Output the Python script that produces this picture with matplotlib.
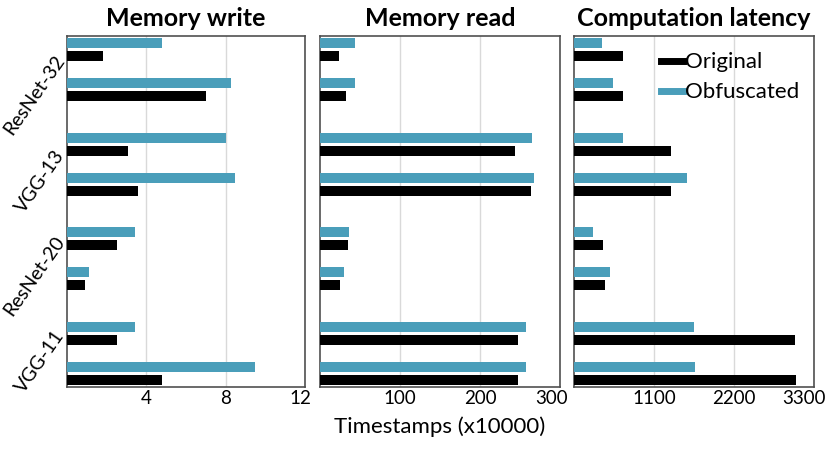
import matplotlib
matplotlib.use("Agg")
import matplotlib.pyplot as plt
import matplotlib.transforms as mtransforms
from matplotlib.lines import Line2D
import numpy as np

plt.rcParams['font.family'] = ['Lato', 'DejaVu Sans']

models = ["ResNet-32", "VGG-13", "ResNet-20", "VGG-11"]
titles = ["Memory write", "Memory read", "Computation latency"]
series_names = ["Original", "Obfuscated"]

# 8 rows (2 per model), top to bottom
write_orig = [1.8, 7.0, 3.1, 3.6, 2.5, 0.9, 2.5, 4.8]
write_obf = [4.8, 8.25, 8.0, 8.45, 3.45, 1.1, 3.45, 9.5]
read_orig = [24, 32, 244, 264, 35, 25, 248, 248]
read_obf = [44, 44, 265, 267, 36, 30, 258, 258]
lat_orig = [670, 670, 1340, 1335, 405, 420, 3035, 3055]
lat_obf = [390, 530, 670, 1555, 265, 495, 1650, 1670]

xlims = [12, 300, 3300]
xticks = [[4, 8, 12], [100, 200, 300], [1100, 2200, 3300]]
xlabel = "Timestamps (x10000)"

CYAN = '#4A9EBA'
BLACK = '#000000'

W, H = 831, 450
fig = plt.figure(figsize=(W / 100, H / 100), dpi=100)

def frac(left, top, width, height):
    return [left / W, 1 - (top + height) / H, width / W, height / H]

ax_px = [(67, 36, 238, 351), (320, 36, 240, 351), (574, 36, 240, 351)]
last_shift = [-5, -8, -10]

# row positions: two rows per model, larger gap between models
row_pos = np.array([g * 2.36 + s for g in range(len(models)) for s in range(2)])
bar_h = 0.25
off = 0.1625

data = [(write_orig, write_obf), (read_orig, read_obf), (lat_orig, lat_obf)]
axes = []
for i, (orig, obf) in enumerate(data):
    ax = fig.add_axes(frac(*ax_px[i]))
    axes.append(ax)
    ax.barh(row_pos - off, obf, height=bar_h, color=CYAN, label=series_names[1], zorder=3)
    ax.barh(row_pos + off, orig, height=bar_h, color=BLACK, label=series_names[0], zorder=3)
    ax.set_xlim(0, xlims[i])
    ax.set_ylim(row_pos[-1] + 0.3375, row_pos[0] - 0.3375)
    ax.set_xticks(xticks[i])
    ax.set_xticklabels([str(t) for t in xticks[i]], fontsize=13.5)
    ax.tick_params(axis='x', length=0, pad=2)
    lbls = ax.get_xticklabels()
    lbls[-1].set_transform(lbls[-1].get_transform() +
                           mtransforms.ScaledTranslation(last_shift[i] / 100, 0, fig.dpi_scale_trans))
    ax.set_yticks([])
    ax.grid(axis='x', color='#d9d9d9', linewidth=1, zorder=0)
    for sp in ax.spines.values():
        sp.set_color('#505050')
        sp.set_linewidth(1.2)
    ax.set_title(titles[i], fontsize=18, fontweight='bold', pad=7)

axes[1].set_xlabel(xlabel, fontsize=16, labelpad=7)

handles = [Line2D([0], [0], color=BLACK, lw=5), Line2D([0], [0], color=CYAN, lw=5)]
axes[2].legend(handles, series_names, loc='upper right', frameon=False, fontsize=16,
               handlelength=1.0, handletextpad=0.1, labelspacing=0.45,
               bbox_to_anchor=(0.985, 0.985), borderaxespad=0.1)

label_px = [(34, 95), (40, 181), (34, 276), (40, 362)]
for name, (x, y) in zip(models, label_px):
    fig.text(x / W, 1 - y / H, name, rotation=55, ha='center', va='center', fontsize=14)

fig.savefig("out.png", dpi=100)
